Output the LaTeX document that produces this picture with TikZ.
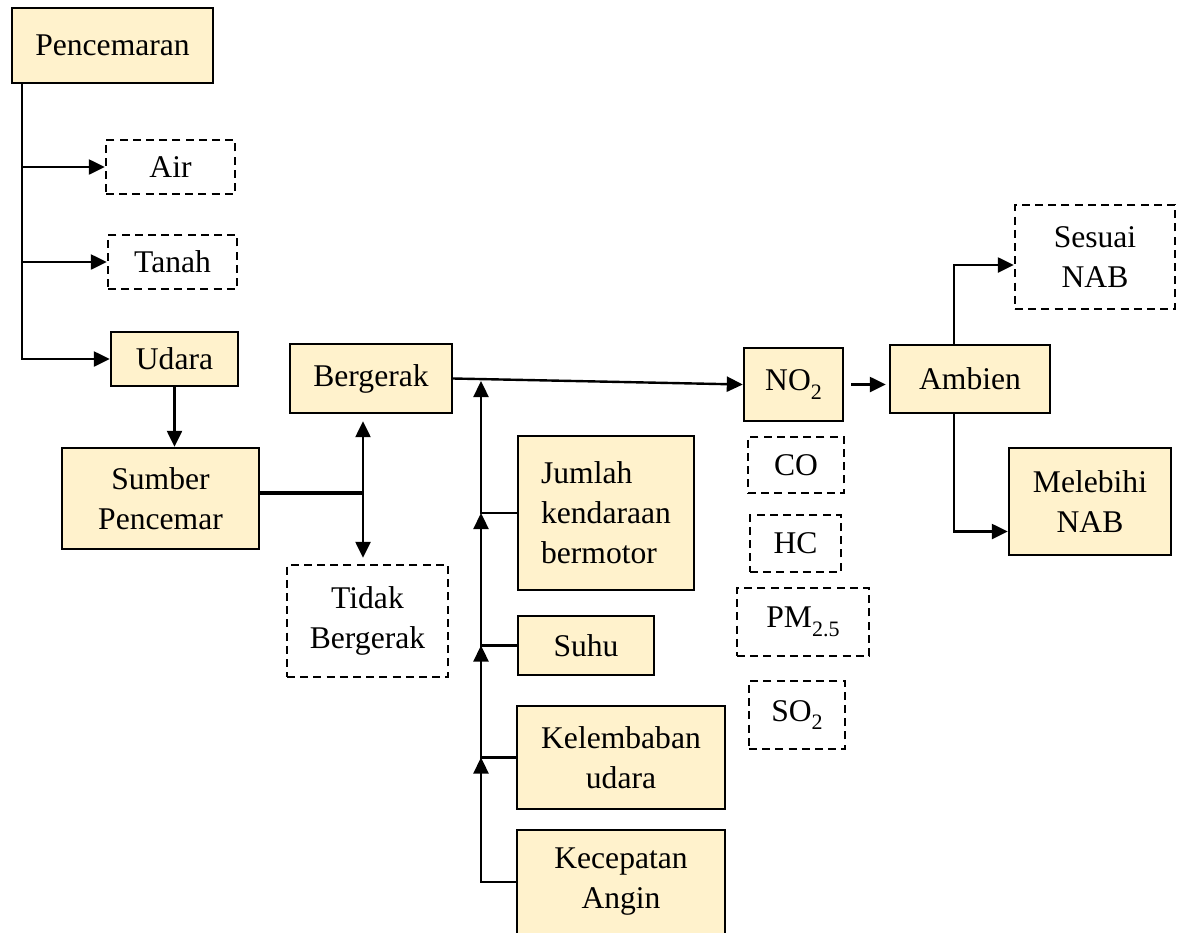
\documentclass[tikz,border=0pt]{standalone}
\usepackage{fontspec}
\setmainfont{Liberation Serif}
\usetikzlibrary{arrows.meta}
\definecolor{boxfill}{HTML}{FFF2CC}
\newcommand{\lowidx}[1]{\raisebox{-0.6ex}{\fontsize{11}{11}\selectfont #1}}
\tikzset{
  solidbox/.style={shape=rectangle,draw=black,fill=boxfill,line width=1.2pt,inner sep=1pt,align=center},
  dashbox/.style={shape=rectangle,draw=black,dash pattern=on 4pt off 2.6pt,line width=1.2pt,inner sep=1pt,align=center},
  arr/.style={-{Triangle[length=8pt,width=7.5pt]},line width=1.2pt}
}

\begin{document}
\begin{tikzpicture}[x=0.5pt,y=-0.5pt,font=\fontsize{15.8}{20}\selectfont]
    \fill[white] (0,0) rectangle (1187,932);
    \useasboundingbox (0,0) rectangle (1187,932);
    \node[solidbox,minimum width=100.5pt,minimum height=37.5pt] (Pencemaran) at (112.5,45.5) {Pencemaran};
    \node[dashbox,minimum width=64.5pt,minimum height=27pt] (Air) at (170.5,167) {Air};
    \node[dashbox,minimum width=64.5pt,minimum height=27pt] (Tanah) at (172.5,262) {Tanah};
    \node[solidbox,minimum width=63.5pt,minimum height=27pt] (Udara) at (174.5,359) {Udara};
    \node[solidbox,minimum width=98.5pt,minimum height=50.5pt] (Sumber) at (160.5,498.5) {Sumber\\Pencemar};
    \node[solidbox,minimum width=81pt,minimum height=34.5pt] (Bergerak) at (371,378.5) {Bergerak};
    \node[dashbox,minimum width=80.5pt,minimum height=56pt] (Tidak) at (367.5,621) {Tidak\\Bergerak};
    \node[solidbox,minimum width=88pt,minimum height=77pt,align=left] (Jumlah) at (606,513) {Jumlah\\kendaraan\\bermotor};
    \node[solidbox,minimum width=68pt,minimum height=29.5pt] (Suhu) at (586,645.5) {Suhu};
    \node[solidbox,minimum width=104pt,minimum height=51.5pt] (Kelembaban) at (621,757.5) {Kelembaban\\udara};
    \node[solidbox,minimum width=104pt,minimum height=52pt] (Kecepatan) at (621,882) {Kecepatan\\Angin};
    \node[solidbox,minimum width=49.5pt,minimum height=36.5pt] (NO2) at (793.5,384.5) {NO\lowidx{2}};
    \node[dashbox,minimum width=48pt,minimum height=28pt] (CO) at (796,465) {CO};
    \node[dashbox,minimum width=45.5pt,minimum height=28.5pt] (HC) at (795.5,543.5) {HC};
    \node[dashbox,minimum width=66pt,minimum height=34pt] (PM) at (803,622) {PM\lowidx{2.5}};
    \node[dashbox,minimum width=48pt,minimum height=34pt] (SO2) at (797,715) {SO\lowidx{2}};
    \node[solidbox,minimum width=80pt,minimum height=34pt] (Ambien) at (970,379) {Ambien};
    \node[dashbox,minimum width=80pt,minimum height=52pt] (Sesuai) at (1095,257) {Sesuai\\NAB};
    \node[solidbox,minimum width=81pt,minimum height=53.5pt] (Melebihi) at (1090,501.5) {Melebihi\\NAB};
    \coordinate (split) at (363,493);
    \coordinate (busend) at (481,381);
    \coordinate (joinA) at (481,513);
    \coordinate (joinB) at (481,645.5);
    \coordinate (joinC) at (481,757.5);
    % pencemaran branches
    \draw[arr] ([xshift=5.5pt]Pencemaran.south west) |- (Air.west);
    \draw[arr] ([xshift=5.5pt]Pencemaran.south west) |- (Tanah.west);
    \draw[arr] ([xshift=5.5pt]Pencemaran.south west) |- (Udara.west);
    \draw[arr] (Udara.south) -- (Udara.south |- Sumber.north);
    % sumber pencemar
    \draw[line width=2.2pt] (Sumber.east |- split) -- (split);
    \draw[arr,shorten >=3.5pt] (split) -- (split |- Bergerak.south);
    \draw[arr,shorten >=3pt] (split) -- (split |- Tidak.north);
    \draw[arr] (Bergerak.east) -- (NO2.west);
    % faktor
    \draw[arr] (Jumlah.west) -| (busend);
    \draw[arr] (Suhu.west) -| (joinA);
    \draw[arr] (Kelembaban.west) -| (joinB);
    \draw[arr] (Kecepatan.west) -| (joinC);
    % ambien
    \draw[arr,shorten <=3.5pt,shorten >=1.5pt] (NO2.east) -- (NO2.east -| Ambien.west);
    \draw[arr] ([xshift=-8pt]Ambien.north) |- ([yshift=-4pt]Sesuai.west);
    \draw[arr] ([xshift=-8pt]Ambien.south) |- ([yshift=-15pt]Melebihi.west);
\end{tikzpicture}
\end{document}
